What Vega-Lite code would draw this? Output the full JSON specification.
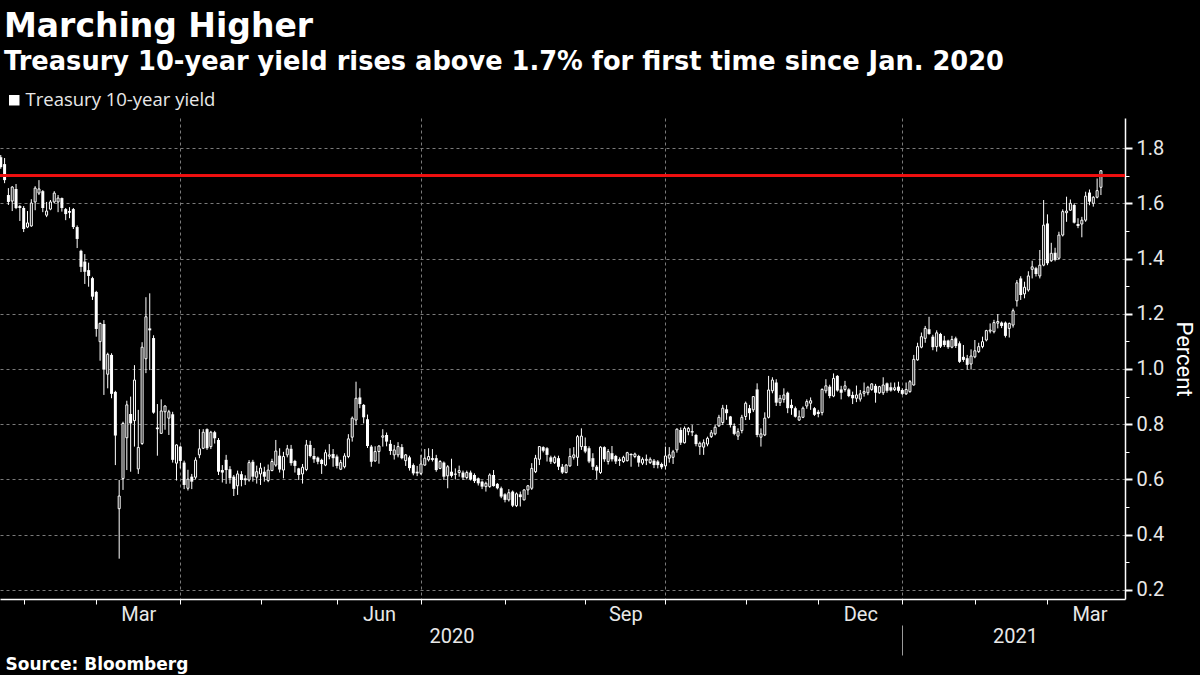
{
"$schema": "https://vega.github.io/schema/vega-lite/v6.json",
"width": 1125,
"height": 481,
"autosize": {"type": "none"},
"padding": {"left": 0, "top": 118, "right": 75, "bottom": 76},
"background": "#000000",
"config": {"view": {"stroke": null}, "font": "Roboto"},
"title": {"text": "Marching Higher", "subtitle": "Treasury 10-year yield rises above 1.7% for first time since Jan. 2020", "anchor": "start", "frame": "group", "dx": 4, "offset": 16, "font": "DejaVu Sans", "fontSize": 33, "fontWeight": "bold", "color": "#ffffff", "subtitleFont": "DejaVu Sans", "subtitleFontSize": 25.7, "subtitleFontWeight": "bold", "subtitleColor": "#ffffff", "subtitlePadding": 6},
"data": {"values": [
{"i":0,"o":1.767,"h":1.775,"l":1.725,"c":1.731},
{"i":1,"o":1.742,"h":1.764,"l":1.673,"c":1.684},
{"i":2,"o":1.630,"h":1.655,"l":1.594,"c":1.605},
{"i":3,"o":1.608,"h":1.662,"l":1.572,"c":1.659},
{"i":4,"o":1.652,"h":1.670,"l":1.579,"c":1.583},
{"i":5,"o":1.590,"h":1.594,"l":1.536,"c":1.583},
{"i":6,"o":1.583,"h":1.590,"l":1.496,"c":1.507},
{"i":7,"o":1.514,"h":1.572,"l":1.510,"c":1.529},
{"i":8,"o":1.518,"h":1.615,"l":1.515,"c":1.601},
{"i":9,"o":1.605,"h":1.662,"l":1.575,"c":1.655},
{"i":10,"o":1.637,"h":1.684,"l":1.630,"c":1.652},
{"i":11,"o":1.644,"h":1.648,"l":1.568,"c":1.583},
{"i":12,"o":1.557,"h":1.605,"l":1.550,"c":1.572},
{"i":13,"o":1.579,"h":1.612,"l":1.575,"c":1.605},
{"i":14,"o":1.605,"h":1.644,"l":1.600,"c":1.637},
{"i":15,"o":1.605,"h":1.630,"l":1.568,"c":1.619},
{"i":16,"o":1.619,"h":1.621,"l":1.570,"c":1.583},
{"i":17,"o":1.579,"h":1.583,"l":1.539,"c":1.561},
{"i":18,"o":1.572,"h":1.586,"l":1.546,"c":1.566},
{"i":19,"o":1.579,"h":1.583,"l":1.507,"c":1.514},
{"i":20,"o":1.514,"h":1.520,"l":1.438,"c":1.471},
{"i":21,"o":1.428,"h":1.432,"l":1.351,"c":1.370},
{"i":22,"o":1.389,"h":1.416,"l":1.308,"c":1.352},
{"i":23,"o":1.358,"h":1.385,"l":1.298,"c":1.337},
{"i":24,"o":1.329,"h":1.334,"l":1.250,"c":1.262},
{"i":25,"o":1.279,"h":1.283,"l":1.117,"c":1.145},
{"i":26,"o":1.099,"h":1.168,"l":1.030,"c":1.165},
{"i":27,"o":1.163,"h":1.177,"l":0.906,"c":0.999},
{"i":28,"o":0.981,"h":1.059,"l":0.930,"c":1.053},
{"i":29,"o":1.051,"h":1.057,"l":0.894,"c":0.910},
{"i":30,"o":0.917,"h":0.921,"l":0.652,"c":0.759},
{"i":31,"o":0.494,"h":0.598,"l":0.313,"c":0.540},
{"i":32,"o":0.603,"h":0.809,"l":0.562,"c":0.803},
{"i":33,"o":0.751,"h":0.885,"l":0.634,"c":0.870},
{"i":34,"o":0.837,"h":0.900,"l":0.628,"c":0.803},
{"i":35,"o":0.813,"h":1.014,"l":0.719,"c":0.960},
{"i":36,"o":0.638,"h":0.852,"l":0.620,"c":0.716},
{"i":37,"o":0.730,"h":1.097,"l":0.725,"c":1.079},
{"i":38,"o":1.037,"h":1.260,"l":0.985,"c":1.189},
{"i":39,"o":1.147,"h":1.274,"l":0.996,"c":1.140},
{"i":40,"o":1.112,"h":1.122,"l":0.838,"c":0.842},
{"i":41,"o":0.788,"h":0.873,"l":0.686,"c":0.782},
{"i":42,"o":0.767,"h":0.890,"l":0.765,"c":0.848},
{"i":43,"o":0.845,"h":0.868,"l":0.780,"c":0.866},
{"i":44,"o":0.822,"h":0.852,"l":0.761,"c":0.845},
{"i":45,"o":0.836,"h":0.845,"l":0.661,"c":0.671},
{"i":46,"o":0.659,"h":0.727,"l":0.596,"c":0.725},
{"i":47,"o":0.719,"h":0.722,"l":0.640,"c":0.667},
{"i":48,"o":0.661,"h":0.668,"l":0.565,"c":0.580},
{"i":49,"o":0.568,"h":0.635,"l":0.560,"c":0.601},
{"i":50,"o":0.610,"h":0.620,"l":0.565,"c":0.592},
{"i":51,"o":0.608,"h":0.680,"l":0.600,"c":0.670},
{"i":52,"o":0.689,"h":0.782,"l":0.677,"c":0.711},
{"i":53,"o":0.713,"h":0.782,"l":0.710,"c":0.771},
{"i":54,"o":0.782,"h":0.785,"l":0.707,"c":0.713},
{"i":55,"o":0.719,"h":0.776,"l":0.710,"c":0.771},
{"i":56,"o":0.771,"h":0.776,"l":0.730,"c":0.749},
{"i":57,"o":0.743,"h":0.750,"l":0.616,"c":0.628},
{"i":58,"o":0.634,"h":0.652,"l":0.589,"c":0.625},
{"i":59,"o":0.671,"h":0.689,"l":0.584,"c":0.634},
{"i":60,"o":0.637,"h":0.648,"l":0.585,"c":0.604},
{"i":61,"o":0.610,"h":0.616,"l":0.540,"c":0.566},
{"i":62,"o":0.577,"h":0.632,"l":0.544,"c":0.620},
{"i":63,"o":0.619,"h":0.630,"l":0.575,"c":0.598},
{"i":64,"o":0.604,"h":0.615,"l":0.580,"c":0.597},
{"i":65,"o":0.598,"h":0.670,"l":0.592,"c":0.661},
{"i":66,"o":0.664,"h":0.671,"l":0.592,"c":0.610},
{"i":67,"o":0.608,"h":0.650,"l":0.585,"c":0.628},
{"i":68,"o":0.620,"h":0.660,"l":0.580,"c":0.641},
{"i":69,"o":0.628,"h":0.646,"l":0.592,"c":0.610},
{"i":70,"o":0.596,"h":0.654,"l":0.590,"c":0.634},
{"i":71,"o":0.632,"h":0.675,"l":0.630,"c":0.665},
{"i":72,"o":0.652,"h":0.743,"l":0.646,"c":0.703},
{"i":73,"o":0.686,"h":0.713,"l":0.625,"c":0.636},
{"i":74,"o":0.634,"h":0.700,"l":0.604,"c":0.683},
{"i":75,"o":0.689,"h":0.725,"l":0.680,"c":0.711},
{"i":76,"o":0.711,"h":0.725,"l":0.650,"c":0.659},
{"i":77,"o":0.667,"h":0.671,"l":0.625,"c":0.649},
{"i":78,"o":0.640,"h":0.642,"l":0.598,"c":0.616},
{"i":79,"o":0.620,"h":0.656,"l":0.585,"c":0.644},
{"i":80,"o":0.636,"h":0.743,"l":0.630,"c":0.725},
{"i":81,"o":0.725,"h":0.740,"l":0.680,"c":0.685},
{"i":82,"o":0.685,"h":0.714,"l":0.660,"c":0.673},
{"i":83,"o":0.679,"h":0.683,"l":0.655,"c":0.664},
{"i":84,"o":0.671,"h":0.675,"l":0.620,"c":0.656},
{"i":85,"o":0.652,"h":0.708,"l":0.648,"c":0.697},
{"i":86,"o":0.684,"h":0.728,"l":0.673,"c":0.689},
{"i":87,"o":0.692,"h":0.710,"l":0.646,"c":0.677},
{"i":88,"o":0.683,"h":0.690,"l":0.640,"c":0.649},
{"i":89,"o":0.637,"h":0.671,"l":0.634,"c":0.661},
{"i":90,"o":0.646,"h":0.695,"l":0.640,"c":0.685},
{"i":91,"o":0.683,"h":0.764,"l":0.677,"c":0.747},
{"i":92,"o":0.753,"h":0.828,"l":0.737,"c":0.822},
{"i":93,"o":0.815,"h":0.954,"l":0.797,"c":0.894},
{"i":94,"o":0.897,"h":0.930,"l":0.858,"c":0.873},
{"i":95,"o":0.870,"h":0.873,"l":0.803,"c":0.825},
{"i":96,"o":0.818,"h":0.835,"l":0.714,"c":0.721},
{"i":97,"o":0.719,"h":0.725,"l":0.646,"c":0.664},
{"i":98,"o":0.667,"h":0.720,"l":0.664,"c":0.701},
{"i":99,"o":0.701,"h":0.724,"l":0.657,"c":0.721},
{"i":100,"o":0.753,"h":0.782,"l":0.719,"c":0.758},
{"i":101,"o":0.761,"h":0.770,"l":0.720,"c":0.737},
{"i":102,"o":0.729,"h":0.743,"l":0.689,"c":0.703},
{"i":103,"o":0.689,"h":0.725,"l":0.672,"c":0.707},
{"i":104,"o":0.689,"h":0.735,"l":0.680,"c":0.719},
{"i":105,"o":0.717,"h":0.728,"l":0.673,"c":0.677},
{"i":106,"o":0.668,"h":0.692,"l":0.649,"c":0.689},
{"i":107,"o":0.680,"h":0.686,"l":0.632,"c":0.641},
{"i":108,"o":0.652,"h":0.658,"l":0.615,"c":0.622},
{"i":109,"o":0.628,"h":0.649,"l":0.612,"c":0.622},
{"i":110,"o":0.622,"h":0.689,"l":0.616,"c":0.656},
{"i":111,"o":0.652,"h":0.710,"l":0.650,"c":0.677},
{"i":112,"o":0.671,"h":0.713,"l":0.665,"c":0.683},
{"i":113,"o":0.677,"h":0.710,"l":0.665,"c":0.671},
{"i":114,"o":0.677,"h":0.689,"l":0.628,"c":0.634},
{"i":115,"o":0.640,"h":0.670,"l":0.637,"c":0.665},
{"i":116,"o":0.661,"h":0.665,"l":0.598,"c":0.610},
{"i":117,"o":0.613,"h":0.652,"l":0.568,"c":0.646},
{"i":118,"o":0.628,"h":0.675,"l":0.607,"c":0.613},
{"i":119,"o":0.621,"h":0.640,"l":0.600,"c":0.617},
{"i":120,"o":0.625,"h":0.650,"l":0.610,"c":0.632},
{"i":121,"o":0.625,"h":0.632,"l":0.598,"c":0.607},
{"i":122,"o":0.607,"h":0.632,"l":0.600,"c":0.625},
{"i":123,"o":0.625,"h":0.632,"l":0.596,"c":0.600},
{"i":124,"o":0.616,"h":0.622,"l":0.587,"c":0.594},
{"i":125,"o":0.604,"h":0.607,"l":0.578,"c":0.586},
{"i":126,"o":0.592,"h":0.596,"l":0.565,"c":0.574},
{"i":127,"o":0.574,"h":0.592,"l":0.556,"c":0.586},
{"i":128,"o":0.574,"h":0.622,"l":0.570,"c":0.616},
{"i":129,"o":0.616,"h":0.634,"l":0.574,"c":0.576},
{"i":130,"o":0.584,"h":0.587,"l":0.564,"c":0.568},
{"i":131,"o":0.568,"h":0.574,"l":0.532,"c":0.538},
{"i":132,"o":0.546,"h":0.550,"l":0.517,"c":0.526},
{"i":133,"o":0.526,"h":0.565,"l":0.520,"c":0.552},
{"i":134,"o":0.556,"h":0.560,"l":0.500,"c":0.505},
{"i":135,"o":0.505,"h":0.553,"l":0.500,"c":0.548},
{"i":136,"o":0.546,"h":0.556,"l":0.502,"c":0.536},
{"i":137,"o":0.526,"h":0.565,"l":0.524,"c":0.562},
{"i":138,"o":0.562,"h":0.580,"l":0.544,"c":0.577},
{"i":139,"o":0.568,"h":0.659,"l":0.562,"c":0.640},
{"i":140,"o":0.628,"h":0.689,"l":0.623,"c":0.677},
{"i":141,"o":0.673,"h":0.721,"l":0.652,"c":0.719},
{"i":142,"o":0.717,"h":0.720,"l":0.698,"c":0.704},
{"i":143,"o":0.713,"h":0.717,"l":0.665,"c":0.689},
{"i":144,"o":0.680,"h":0.686,"l":0.656,"c":0.664},
{"i":145,"o":0.661,"h":0.686,"l":0.656,"c":0.680},
{"i":146,"o":0.677,"h":0.686,"l":0.634,"c":0.646},
{"i":147,"o":0.646,"h":0.656,"l":0.620,"c":0.625},
{"i":148,"o":0.625,"h":0.656,"l":0.622,"c":0.652},
{"i":149,"o":0.649,"h":0.713,"l":0.646,"c":0.683},
{"i":150,"o":0.680,"h":0.717,"l":0.672,"c":0.689},
{"i":151,"o":0.680,"h":0.761,"l":0.649,"c":0.755},
{"i":152,"o":0.719,"h":0.785,"l":0.707,"c":0.757},
{"i":153,"o":0.721,"h":0.752,"l":0.695,"c":0.701},
{"i":154,"o":0.713,"h":0.720,"l":0.659,"c":0.665},
{"i":155,"o":0.677,"h":0.695,"l":0.634,"c":0.646},
{"i":156,"o":0.646,"h":0.652,"l":0.601,"c":0.632},
{"i":157,"o":0.625,"h":0.720,"l":0.620,"c":0.717},
{"i":158,"o":0.717,"h":0.720,"l":0.664,"c":0.673},
{"i":159,"o":0.665,"h":0.710,"l":0.654,"c":0.701},
{"i":160,"o":0.695,"h":0.721,"l":0.665,"c":0.673},
{"i":161,"o":0.685,"h":0.689,"l":0.656,"c":0.665},
{"i":162,"o":0.673,"h":0.680,"l":0.649,"c":0.667},
{"i":163,"o":0.665,"h":0.686,"l":0.660,"c":0.680},
{"i":164,"o":0.668,"h":0.700,"l":0.665,"c":0.697},
{"i":165,"o":0.692,"h":0.695,"l":0.646,"c":0.688},
{"i":166,"o":0.683,"h":0.697,"l":0.677,"c":0.692},
{"i":167,"o":0.685,"h":0.689,"l":0.646,"c":0.661},
{"i":168,"o":0.659,"h":0.680,"l":0.652,"c":0.673},
{"i":169,"o":0.669,"h":0.690,"l":0.652,"c":0.673},
{"i":170,"o":0.661,"h":0.680,"l":0.656,"c":0.673},
{"i":171,"o":0.668,"h":0.674,"l":0.641,"c":0.652},
{"i":172,"o":0.665,"h":0.670,"l":0.640,"c":0.652},
{"i":173,"o":0.656,"h":0.661,"l":0.637,"c":0.644},
{"i":174,"o":0.649,"h":0.719,"l":0.636,"c":0.685},
{"i":175,"o":0.677,"h":0.717,"l":0.661,"c":0.689},
{"i":176,"o":0.680,"h":0.707,"l":0.656,"c":0.700},
{"i":177,"o":0.707,"h":0.785,"l":0.697,"c":0.782},
{"i":178,"o":0.779,"h":0.788,"l":0.725,"c":0.733},
{"i":179,"o":0.733,"h":0.792,"l":0.730,"c":0.785},
{"i":180,"o":0.773,"h":0.790,"l":0.760,"c":0.785},
{"i":181,"o":0.775,"h":0.797,"l":0.757,"c":0.770},
{"i":182,"o":0.761,"h":0.765,"l":0.720,"c":0.728},
{"i":183,"o":0.719,"h":0.737,"l":0.689,"c":0.731},
{"i":184,"o":0.717,"h":0.745,"l":0.689,"c":0.733},
{"i":185,"o":0.728,"h":0.755,"l":0.720,"c":0.749},
{"i":186,"o":0.755,"h":0.779,"l":0.750,"c":0.769},
{"i":187,"o":0.765,"h":0.797,"l":0.760,"c":0.789},
{"i":188,"o":0.794,"h":0.834,"l":0.790,"c":0.825},
{"i":189,"o":0.806,"h":0.870,"l":0.797,"c":0.858},
{"i":190,"o":0.854,"h":0.870,"l":0.816,"c":0.840},
{"i":191,"o":0.828,"h":0.830,"l":0.788,"c":0.797},
{"i":192,"o":0.794,"h":0.803,"l":0.760,"c":0.765},
{"i":193,"o":0.757,"h":0.785,"l":0.743,"c":0.773},
{"i":194,"o":0.777,"h":0.834,"l":0.767,"c":0.825},
{"i":195,"o":0.828,"h":0.882,"l":0.815,"c":0.876},
{"i":196,"o":0.858,"h":0.870,"l":0.816,"c":0.840},
{"i":197,"o":0.852,"h":0.902,"l":0.844,"c":0.900},
{"i":198,"o":0.926,"h":0.948,"l":0.753,"c":0.761},
{"i":199,"o":0.753,"h":0.785,"l":0.719,"c":0.765},
{"i":200,"o":0.761,"h":0.843,"l":0.757,"c":0.822},
{"i":201,"o":0.825,"h":0.975,"l":0.821,"c":0.924},
{"i":202,"o":0.921,"h":0.970,"l":0.912,"c":0.960},
{"i":203,"o":0.951,"h":0.963,"l":0.866,"c":0.878},
{"i":204,"o":0.878,"h":0.906,"l":0.866,"c":0.894},
{"i":205,"o":0.890,"h":0.930,"l":0.878,"c":0.906},
{"i":206,"o":0.914,"h":0.918,"l":0.840,"c":0.858},
{"i":207,"o":0.870,"h":0.890,"l":0.834,"c":0.858},
{"i":208,"o":0.858,"h":0.864,"l":0.824,"c":0.827},
{"i":209,"o":0.815,"h":0.850,"l":0.812,"c":0.827},
{"i":210,"o":0.825,"h":0.864,"l":0.822,"c":0.858},
{"i":211,"o":0.866,"h":0.890,"l":0.856,"c":0.882},
{"i":212,"o":0.876,"h":0.897,"l":0.852,"c":0.885},
{"i":213,"o":0.858,"h":0.862,"l":0.830,"c":0.834},
{"i":214,"o":0.845,"h":0.852,"l":0.825,"c":0.837},
{"i":215,"o":0.842,"h":0.930,"l":0.832,"c":0.926},
{"i":216,"o":0.921,"h":0.963,"l":0.912,"c":0.939},
{"i":217,"o":0.936,"h":0.943,"l":0.894,"c":0.902},
{"i":218,"o":0.902,"h":0.984,"l":0.898,"c":0.966},
{"i":219,"o":0.975,"h":0.978,"l":0.918,"c":0.922},
{"i":220,"o":0.926,"h":0.939,"l":0.890,"c":0.914},
{"i":221,"o":0.926,"h":0.957,"l":0.918,"c":0.939},
{"i":222,"o":0.926,"h":0.930,"l":0.898,"c":0.902},
{"i":223,"o":0.906,"h":0.918,"l":0.873,"c":0.894},
{"i":224,"o":0.894,"h":0.940,"l":0.880,"c":0.906},
{"i":225,"o":0.891,"h":0.924,"l":0.882,"c":0.910},
{"i":226,"o":0.912,"h":0.951,"l":0.900,"c":0.918},
{"i":227,"o":0.914,"h":0.939,"l":0.905,"c":0.934},
{"i":228,"o":0.926,"h":0.948,"l":0.921,"c":0.946},
{"i":229,"o":0.939,"h":0.946,"l":0.878,"c":0.914},
{"i":230,"o":0.914,"h":0.939,"l":0.910,"c":0.936},
{"i":231,"o":0.914,"h":0.970,"l":0.906,"c":0.942},
{"i":232,"o":0.948,"h":0.951,"l":0.914,"c":0.921},
{"i":233,"o":0.934,"h":0.951,"l":0.918,"c":0.922},
{"i":234,"o":0.925,"h":0.951,"l":0.920,"c":0.932},
{"i":235,"o":0.936,"h":0.954,"l":0.914,"c":0.921},
{"i":236,"o":0.924,"h":0.930,"l":0.906,"c":0.910},
{"i":237,"o":0.910,"h":0.951,"l":0.906,"c":0.926},
{"i":238,"o":0.918,"h":0.960,"l":0.914,"c":0.954},
{"i":239,"o":0.942,"h":1.051,"l":0.940,"c":1.035},
{"i":240,"o":1.033,"h":1.095,"l":1.030,"c":1.081},
{"i":241,"o":1.079,"h":1.132,"l":1.075,"c":1.117},
{"i":242,"o":1.111,"h":1.156,"l":1.095,"c":1.147},
{"i":243,"o":1.144,"h":1.189,"l":1.124,"c":1.127},
{"i":244,"o":1.117,"h":1.124,"l":1.068,"c":1.079},
{"i":245,"o":1.081,"h":1.140,"l":1.063,"c":1.131},
{"i":246,"o":1.127,"h":1.131,"l":1.076,"c":1.081},
{"i":247,"o":1.103,"h":1.120,"l":1.080,"c":1.087},
{"i":248,"o":1.103,"h":1.106,"l":1.073,"c":1.079},
{"i":249,"o":1.079,"h":1.120,"l":1.075,"c":1.107},
{"i":250,"o":1.111,"h":1.117,"l":1.076,"c":1.083},
{"i":251,"o":1.093,"h":1.100,"l":1.022,"c":1.026},
{"i":252,"o":1.044,"h":1.087,"l":1.026,"c":1.033},
{"i":253,"o":1.039,"h":1.051,"l":0.998,"c":1.015},
{"i":254,"o":1.018,"h":1.071,"l":0.998,"c":1.047},
{"i":255,"o":1.044,"h":1.105,"l":1.039,"c":1.066},
{"i":256,"o":1.063,"h":1.095,"l":1.058,"c":1.081},
{"i":257,"o":1.081,"h":1.117,"l":1.075,"c":1.099},
{"i":258,"o":1.105,"h":1.142,"l":1.100,"c":1.139},
{"i":259,"o":1.137,"h":1.165,"l":1.129,"c":1.141},
{"i":260,"o":1.135,"h":1.178,"l":1.129,"c":1.168},
{"i":261,"o":1.166,"h":1.199,"l":1.147,"c":1.172},
{"i":262,"o":1.168,"h":1.172,"l":1.148,"c":1.156},
{"i":263,"o":1.168,"h":1.172,"l":1.114,"c":1.120},
{"i":264,"o":1.147,"h":1.168,"l":1.114,"c":1.165},
{"i":265,"o":1.159,"h":1.219,"l":1.150,"c":1.211},
{"i":266,"o":1.247,"h":1.322,"l":1.226,"c":1.312},
{"i":267,"o":1.328,"h":1.336,"l":1.250,"c":1.268},
{"i":268,"o":1.272,"h":1.316,"l":1.256,"c":1.296},
{"i":269,"o":1.286,"h":1.354,"l":1.280,"c":1.337},
{"i":270,"o":1.361,"h":1.392,"l":1.328,"c":1.370},
{"i":271,"o":1.365,"h":1.370,"l":1.335,"c":1.344},
{"i":272,"o":1.337,"h":1.431,"l":1.328,"c":1.376},
{"i":273,"o":1.376,"h":1.612,"l":1.372,"c":1.521},
{"i":274,"o":1.527,"h":1.560,"l":1.376,"c":1.383},
{"i":275,"o":1.392,"h":1.457,"l":1.388,"c":1.419},
{"i":276,"o":1.421,"h":1.439,"l":1.390,"c":1.395},
{"i":277,"o":1.401,"h":1.497,"l":1.397,"c":1.485},
{"i":278,"o":1.485,"h":1.578,"l":1.480,"c":1.570},
{"i":279,"o":1.566,"h":1.624,"l":1.533,"c":1.572},
{"i":280,"o":1.575,"h":1.614,"l":1.573,"c":1.600},
{"i":281,"o":1.594,"h":1.600,"l":1.527,"c":1.530},
{"i":282,"o":1.525,"h":1.546,"l":1.510,"c":1.518},
{"i":283,"o":1.525,"h":1.551,"l":1.477,"c":1.539},
{"i":284,"o":1.539,"h":1.642,"l":1.533,"c":1.626},
{"i":285,"o":1.639,"h":1.650,"l":1.593,"c":1.606},
{"i":286,"o":1.600,"h":1.626,"l":1.588,"c":1.622},
{"i":287,"o":1.622,"h":1.690,"l":1.618,"c":1.646},
{"i":288,"o":1.658,"h":1.720,"l":1.630,"c":1.718}
]},
"resolve": {"axis": {"x": "independent", "y": "independent"}},
"layer": [
{
"mark": {"type": "rule", "color": "#ffffff", "strokeWidth": 1},
"encoding": {
"x": {"field": "i", "type": "quantitative", "scale": {"domain": [-0.2, 294.3], "nice": false, "zero": false, "padding": 0},
"axis": {"orient": "bottom", "values": [6,25,47,68,88,110,132,153,174,195,214,236,255,274], "labels": false, "title": null, "tickSize": 5, "tickColor": "#ffffff", "tickWidth": 1, "domainColor": "#ffffff", "domainWidth": 1.5, "grid": true, "gridColor": "#7a7a7a", "gridDash": [3,3], "gridWidth": 1, "gridOpacity": {"condition": {"test": "indexof([47,110,174,236], datum.value) >= 0", "value": 1}, "value": 0}}},
"y": {"field": "l", "type": "quantitative", "scale": {"domain": [0.167, 1.909], "nice": false, "zero": false},
"axis": {"orient": "right", "values": [0.2,0.4,0.6,0.8,1.0,1.2,1.4,1.6,1.8], "format": ".1f", "title": "Percent", "titleFont": "Roboto", "titleFontSize": 22, "titleFontWeight": "normal", "titleColor": "#ffffff", "titlePadding": 8, "labelFont": "Roboto", "labelFontSize": 20, "labelColor": "#e8e8e8", "labelPadding": 4, "tickSize": 7, "tickWidth": 2, "tickColor": "#ffffff", "domainColor": "#ffffff", "domainWidth": 1.5, "grid": true, "gridColor": "#7a7a7a", "gridDash": [3,3], "gridWidth": 1}},
"y2": {"field": "h"}
}
},
{
"transform": [{"filter": "datum.c >= datum.o"}],
"mark": {"type": "bar", "width": 2, "fill": "#000000", "stroke": "#ffffff", "strokeWidth": 1},
"encoding": {
"x": {"field": "i", "type": "quantitative", "scale": {"domain": [-0.2, 294.3], "nice": false, "zero": false, "padding": 0},
"axis": {"orient": "bottom", "offset": 26, "values": [118, 236, 265.5], "labelExpr": "datum.value == 118 ? '2020' : datum.value == 265.5 ? '2021' : ''", "tickSize": 30, "tickColor": "#9a9a9a", "tickWidth": 1, "tickOpacity": {"condition": {"test": "datum.value == 236", "value": 1}, "value": 0}, "domain": false, "grid": false, "labelPadding": -29, "labelFont": "Roboto", "labelFontSize": 20, "labelColor": "#e8e8e8", "labelFlush": false, "labelOverlap": false, "title": "Source: Bloomberg", "titleFont": "DejaVu Sans", "titleFontSize": 17, "titleFontWeight": "bold", "titleColor": "#ffffff", "titleAnchor": "start", "titleAlign": "left", "titleBaseline": "alphabetic", "titleX": 5, "titleY": 44}},
"y": {"field": "o", "type": "quantitative", "scale": {"domain": [0.167, 1.909], "nice": false, "zero": false},
"axis": {"orient": "right", "values": [0.3,0.5,0.7,0.9,1.1,1.3,1.5,1.7], "labels": false, "domain": false, "grid": false, "title": null, "tickSize": 4, "tickColor": "#ffffff", "tickWidth": 1}},
"y2": {"field": "c"}
}
},
{
"transform": [{"filter": "datum.c < datum.o"}],
"mark": {"type": "bar", "width": 3},
"encoding": {
"x": {"field": "i", "type": "quantitative", "scale": {"domain": [-0.2, 294.3], "nice": false, "zero": false, "padding": 0},
"axis": {"orient": "bottom", "values": [36, 99, 163.5, 225, 285], "labelExpr": "datum.value == 36 || datum.value == 285 ? 'Mar' : datum.value == 99 ? 'Jun' : datum.value == 163.5 ? 'Sep' : 'Dec'", "ticks": false, "domain": false, "grid": false, "title": null, "labelFont": "Roboto", "labelFontSize": 20, "labelColor": "#e8e8e8", "labelPadding": 5, "labelFlush": false, "labelOverlap": false}},
"y": {"field": "o", "type": "quantitative", "scale": {"domain": [0.167, 1.909], "nice": false, "zero": false}, "axis": null},
"y2": {"field": "c"},
"color": {"datum": "Treasury 10-year yield", "scale": {"range": ["#ffffff"]},
"legend": {"orient": "none", "legendX": 5, "legendY": -27, "title": null, "symbolType": "square", "symbolSize": 110, "symbolStrokeWidth": 0, "symbolFillColor": "#f0f0f0", "labelFont": "Open Sans", "labelFontSize": 18.5, "labelLimit": 500, "labelColor": "#e8e8e8", "labelOffset": 2, "padding": 0}}
}
},
{
"mark": {"type": "rule", "color": "#ee1111", "strokeWidth": 2},
"encoding": {"y": {"datum": 1.7, "type": "quantitative", "axis": null}}
}
]
}
